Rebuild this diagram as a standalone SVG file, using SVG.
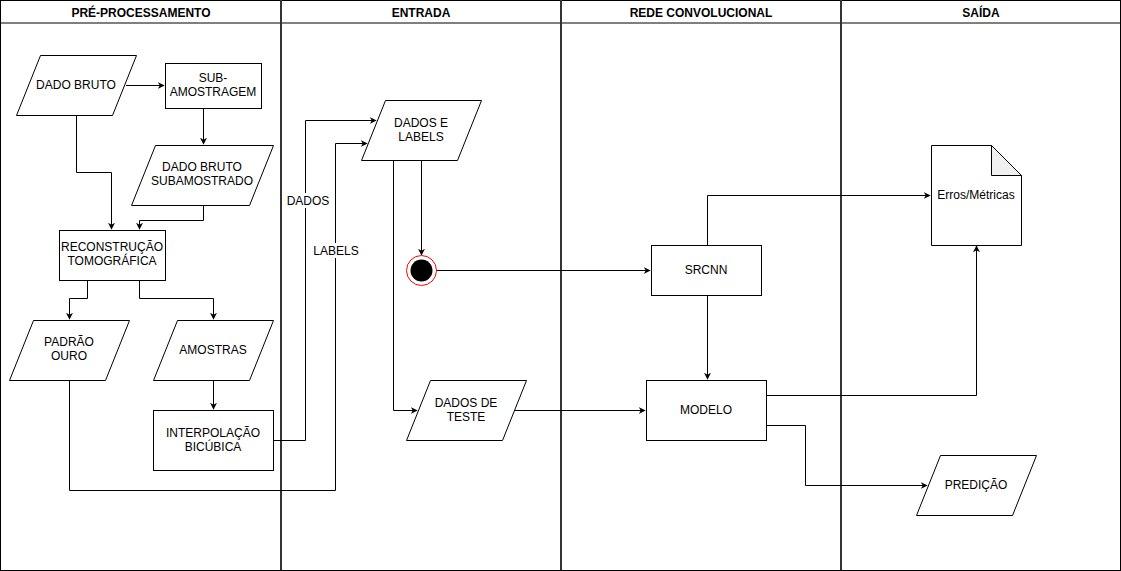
<svg xmlns="http://www.w3.org/2000/svg" width="1121" height="571" viewBox="0 0 1121 571">
<style>
.lane{fill:#fff;stroke:#000;stroke-width:1}
.div{stroke:#333;stroke-width:2;fill:none}
.hdr{font-family:"Liberation Sans",Arial,sans-serif;font-size:12px;font-weight:bold;fill:#000;text-anchor:middle}
.shp{fill:#fff;stroke:#000;stroke-width:1}
.t{font-family:"Liberation Sans",Arial,sans-serif;font-size:12px;fill:#000;text-anchor:middle}
.c{fill:none;stroke:#000;stroke-width:1}
</style>
<defs>
<marker id="arr" viewBox="0 0 10 10" refX="9" refY="5" markerWidth="7" markerHeight="7" markerUnits="userSpaceOnUse" orient="auto">
<path d="M0,0 L10,5 L0,10 L3,5 Z" fill="#000"/>
</marker>
</defs>
<rect x="0" y="0" width="1121" height="571" fill="#fff"/>
<g id="lanes">
<rect class="lane" x="0.5" y="0.5" width="1120" height="570"/>
<line x1="0.5" y1="23" x2="1120.5" y2="23" stroke="#000" stroke-width="1"/>
<line class="div" x1="281" y1="0" x2="281" y2="571"/>
<line class="div" x1="561" y1="0" x2="561" y2="571"/>
<line class="div" x1="841" y1="0" x2="841" y2="571"/>
<line x1="0.5" y1="570.5" x2="1120.5" y2="570.5" stroke="#000" stroke-width="1"/>
<text class="hdr" x="141" y="17">PRÉ-PROCESSAMENTO</text>
<text class="hdr" x="421" y="17">ENTRADA</text>
<text class="hdr" x="701" y="17">REDE CONVOLUCIONAL</text>
<text class="hdr" x="981" y="17">SAÍDA</text>
</g>
<g id="connectors">
<path class="c" d="M126,85.5 H164" marker-end="url(#arr)"/>
<path class="c" d="M203.5,108 V144" marker-end="url(#arr)"/>
<path class="c" d="M76.5,115 V172.5 H111.5 V229" marker-end="url(#arr)"/>
<path class="c" d="M203.5,205 V220.5 H139.5 V229" marker-end="url(#arr)"/>
<path class="c" d="M87.5,280 V298.5 H69.5 V319" marker-end="url(#arr)"/>
<path class="c" d="M139.5,280 V298.5 H213.5 V319" marker-end="url(#arr)"/>
<path class="c" d="M213.5,380 V409" marker-end="url(#arr)"/>
<path class="c" d="M273,440.5 H305.5 V120.5 H376" marker-end="url(#arr)"/>
<path class="c" d="M69.5,380 V490.5 H335.5 V143.5 H367" marker-end="url(#arr)"/>
<path class="c" d="M421.5,160 V255" marker-end="url(#arr)"/>
<path class="c" d="M393.5,160 V410.5 H417" marker-end="url(#arr)"/>
<path class="c" d="M436,270.5 H650" marker-end="url(#arr)"/>
<path class="c" d="M514,410.5 H645" marker-end="url(#arr)"/>
<path class="c" d="M707.5,245 V195.5 H930" marker-end="url(#arr)"/>
<path class="c" d="M707.5,295 V379" marker-end="url(#arr)"/>
<path class="c" d="M766,395.5 H976.5 V246" marker-end="url(#arr)"/>
<path class="c" d="M766,425.5 H805.5 V485.5 H927" marker-end="url(#arr)"/>
<rect x="287" y="193" width="42" height="15" fill="#fff"/>
<text class="t" x="308" y="205">DADOS</text>
<rect x="313" y="243" width="46" height="15" fill="#fff"/>
<text class="t" x="336" y="255">LABELS</text>
</g>
<g id="dado-bruto">
<polygon class="shp" points="40.5,55.5 136.5,55.5 112.5,115.5 16.5,115.5"/>
<text class="t" x="76" y="89">DADO BRUTO</text>
</g>
<g id="sub-amostragem">
<rect class="shp" x="165.5" y="63.5" width="96" height="45"/>
<text class="t" x="213" y="82">SUB-</text>
<text class="t" x="213" y="96">AMOSTRAGEM</text>
</g>
<g id="dado-bruto-subamostrado">
<polygon class="shp" points="155.5,145.5 273.5,145.5 249.5,205.5 131.5,205.5"/>
<text class="t" x="202" y="171">DADO BRUTO</text>
<text class="t" x="202" y="185">SUBAMOSTRADO</text>
</g>
<g id="reconstrucao">
<rect class="shp" x="59.5" y="230.5" width="106" height="50"/>
<text class="t" x="112" y="251">RECONSTRUÇÃO</text>
<text class="t" x="112" y="265">TOMOGRÁFICA</text>
</g>
<g id="padrao-ouro">
<polygon class="shp" points="33.5,320.5 129.5,320.5 105.5,380.5 9.5,380.5"/>
<text class="t" x="69" y="346">PADRÃO</text>
<text class="t" x="69" y="360">OURO</text>
</g>
<g id="amostras">
<polygon class="shp" points="177.5,320.5 273.5,320.5 249.5,380.5 153.5,380.5"/>
<text class="t" x="213" y="354">AMOSTRAS</text>
</g>
<g id="interpolacao">
<rect class="shp" x="153.5" y="410.5" width="120" height="60"/>
<text class="t" x="213" y="437">INTERPOLAÇÃO</text>
<text class="t" x="213" y="451">BICÚBICA</text>
</g>
<g id="dados-e-labels">
<polygon class="shp" points="385.5,100.5 481.5,100.5 457.5,160.5 361.5,160.5"/>
<text class="t" x="421" y="127">DADOS E</text>
<text class="t" x="421" y="141">LABELS</text>
</g>
<g id="fim">
<circle cx="421.5" cy="270.5" r="15" fill="#fff" stroke="#ff0000" stroke-width="1"/>
<circle cx="421.5" cy="270.5" r="11" fill="#000"/>
</g>
<g id="dados-de-teste">
<polygon class="shp" points="430.5,380.5 526.5,380.5 502.5,440.5 406.5,440.5"/>
<text class="t" x="466" y="407">DADOS DE</text>
<text class="t" x="466" y="421">TESTE</text>
</g>
<g id="srcnn">
<rect class="shp" x="651.5" y="245.5" width="110" height="50"/>
<text class="t" x="706" y="274">SRCNN</text>
</g>
<g id="modelo">
<rect class="shp" x="646.5" y="380.5" width="120" height="60"/>
<text class="t" x="706" y="414">MODELO</text>
</g>
<g id="erros-metricas">
<path class="shp" d="M931.5,145.5 H991.5 L1021.5,175.5 V245.5 H931.5 Z"/>
<path d="M991.5,145.5 V175.5 H1021.5 Z" fill="#f0f0f0" stroke="#000" stroke-width="1"/>
<text class="t" x="976" y="199">Erros/Métricas</text>
</g>
<g id="predicao">
<polygon class="shp" points="940.5,455.5 1036.5,455.5 1012.5,515.5 916.5,515.5"/>
<text class="t" x="976" y="489">PREDIÇÃO</text>
</g>
</svg>
